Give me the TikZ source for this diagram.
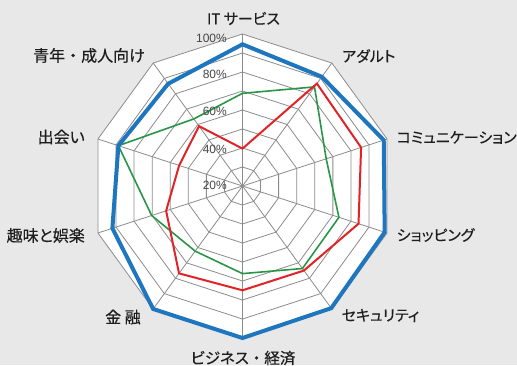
\documentclass[tikz,border=0pt]{standalone}
\usepackage{fontspec}
\newfontfamily\jp[RawFeature=+palt, FakeBold=0.35]{Noto Sans CJK JP}
\newfontfamily\jpf[FakeBold=0.35]{Noto Sans CJK JP}
\newfontfamily\pct{Liberation Sans}
\definecolor{bgcol}{RGB}{232,232,232}
\definecolor{gridcol}{RGB}{140,140,140}
\definecolor{sblue}{RGB}{30,118,190}
\definecolor{sred}{RGB}{225,35,40}
\definecolor{sgreen}{RGB}{40,150,70}
\definecolor{txt}{RGB}{30,30,30}
\definecolor{pctcol}{RGB}{70,70,70}
\begin{document}
\begin{tikzpicture}[x=1pt,y=-1pt,
  gridline/.style={draw=gridcol, line width=0.8pt},
  series/.style={line join=miter},
  axlab/.style={inner sep=0pt, font=\jp\fontsize{15}{15}\selectfont, text=txt},
  kanjilab/.style={axlab, font=\jp\fontsize{16}{16}\selectfont},
  pctlab/.style={inner sep=0pt, anchor=east, font=\pct\fontsize{12}{12}\selectfont, text=pctcol}]
\useasboundingbox (0,0) rectangle (517,365);
\fill[bgcol] (0,0) rectangle (517,365);
\begin{scope}[shift={(242.5,186)}]
  \fill[white] (-90:152) \foreach \i in {1,...,9}{ -- (-90+36*\i:152)} -- cycle;
  \foreach \k in {1,...,8}
    \draw[gridline] (-90:19*\k) \foreach \i in {1,...,9}{ -- (-90+36*\i:19*\k)} -- cycle;
  \foreach \i in {0,...,9}
    \draw[gridline] (0,0) -- (-90+36*\i:152);
  % green series
  \draw[series, draw=sgreen, line width=1.6pt]
    (-90:92.7) -- (-54:122.5) -- (-18:88) -- (18:101.4) -- (54:102)
    -- (90:87.6) -- (126:80.5) -- (162:95.5) -- (198:130.5) -- (234:82.9) -- cycle;
  % red series
  \draw[series, draw=sred, line width=2pt]
    (-90:37.4) -- (-54:126.6) -- (-18:124.7) -- (18:122) -- (54:104.5)
    -- (90:104.3) -- (126:108) -- (162:80.3) -- (198:66.6) -- (234:74) -- cycle;
  % blue series
  \draw[series, draw=sblue, line width=4pt]
    (-90:141.7) -- (-54:135) -- (-18:148.5) -- (18:149.5) -- (54:151)
    -- (90:152) -- (126:152) -- (162:136.8) -- (198:130.5) -- (234:126.4) -- cycle;
\end{scope}
% percent labels
\node[pctlab] (p100) at (227,38) {100\%};
\node[pctlab] (p80) at (227,74) {80\%};
\node[pctlab] (p60) at (227,111) {60\%};
\node[pctlab] (p40) at (227,149) {40\%};
\node[pctlab] (p20) at (227,185) {20\%};
% axis labels
\node[axlab] (l0) at (243.5,18.5) {IT サービス};
\node[axlab, anchor=west] (l1) at (342,56) {アダルト};
\node[axlab, anchor=west] (l2) at (396.5,137.5) {コミュニケーション};
\node[axlab, anchor=west] (l3) at (396.5,235) {ショッピング};
\node[axlab, anchor=west] (l4) at (341.5,315.5) {セキュリティ};
\node[axlab, font=\jp\fontsize{15.5}{15.5}\selectfont] (l5) at (243,358) {ビジネス{\jpf ・}経済};
\node[kanjilab] (l6) at (123,317) {金 融};
\node[kanjilab, anchor=east] (l7) at (85,235.5) {趣味と娯楽};
\node[kanjilab, anchor=east] (l8) at (85,137) {出会い};
\node[kanjilab, anchor=east] (l9) at (145,55.5) {青年{\jpf ・}成人向け};
\end{tikzpicture}
\end{document}
